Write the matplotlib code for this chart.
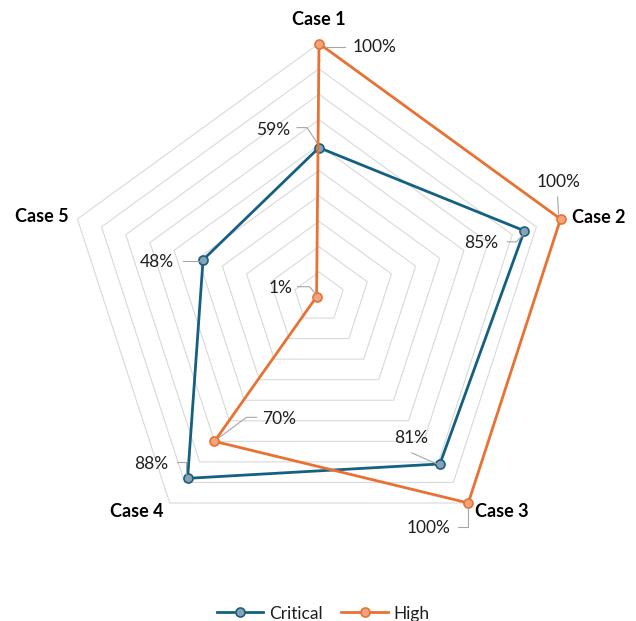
import numpy as np
import matplotlib
matplotlib.use("Agg")
import matplotlib.pyplot as plt
from matplotlib.lines import Line2D

plt.rcParams['font.family'] = ['Lato', 'DejaVu Sans']

categories = ["Case 1", "Case 2", "Case 3", "Case 4", "Case 5"]
critical = [59, 85, 81, 88, 48]
high = [100, 100, 100, 70, 1]
series_names = ["Critical", "High"]

LINE_COLORS = ["#156082", "#E97132"]
FILL_COLORS = ["#8aa1b1", "#f2a47e"]
GRID_COLOR = "#d9d9d9"
TEXT_COLOR = "#1f1f1f"

# canvas geometry (pixel units)
W, H = 636, 621
CX, CY, R = 319, 297.5, 254
RMAX = 100

angles = np.deg2rad(90 - 72 * np.arange(len(categories)))


def to_xy(values):
    r = np.asarray(values, dtype=float) / RMAX * R
    return CX + r * np.cos(angles), CY - r * np.sin(angles)


fig = plt.figure(figsize=(W / 100, H / 100), dpi=100)
ax = fig.add_axes([0, 0, 1, 1])
ax.set_xlim(0, W)
ax.set_ylim(H, 0)
ax.axis("off")

# concentric pentagon grid, one ring per 10%
for level in range(10, RMAX + 1, 10):
    gx, gy = to_xy([level] * len(categories))
    ax.plot(np.append(gx, gx[0]), np.append(gy, gy[0]), color=GRID_COLOR,
            lw=0.8, zorder=1)

# category labels: (dx, dy, ha) offsets from the outer vertex
cat_offsets = [(0, -24, "center"), (11, -2, "left"), (7, 9, "left"),
               (-33, 9, "center"), (-9, -3, "right")]
ox, oy = to_xy([RMAX] * len(categories))
for name, x, y, (dx, dy, ha) in zip(categories, ox, oy, cat_offsets):
    ax.text(x + dx, y + dy, name, ha=ha, va="center", fontsize=13,
            fontweight="bold", color="black", zorder=5)

# data label placement: text offset and leader polyline, relative to the point
label_layout = {
    "Critical": [
        ((-46, -18), [(-2, -5), (-12, -20), (-22, -20)]),
        ((-43, 12), [(0, 3), (-8, 11), (-17, 11)]),
        ((-29, -26), [(-3, 0), (-28, -11)]),
        ((-36, -14), [(-2, -4), (-2, -16), (-11, -16)]),
        ((-46, 2), [(-4, 1), (-20, 1)]),
    ],
    "High": [
        ((56, 4), [(6, 3.5), (26, 3.5)]),
        ((-2, -37), [(-2, -5), (-3, -22)]),
        ((-40, 25), [(0, 5), (0, 24), (-10, 24)]),
        ((65, -22), [(5, -4), (32, -24), (42, -24)]),
        ((-36, -9), [(0, -1.5), (-7, -10), (-19, -10)]),
    ],
}

handles = []
for name, vals, lc, fc, z in zip(series_names, [critical, high], LINE_COLORS,
                                 FILL_COLORS, [2, 3]):
    x, y = to_xy(vals)
    ax.plot(np.append(x, x[0]), np.append(y, y[0]), color=lc, lw=2.0,
            zorder=z, solid_joinstyle="miter")
    ax.plot(x, y, ls="none", marker="o", ms=6.5, mfc=fc, mec=lc, mew=1.2,
            zorder=z + 0.5)
    for v, px, py, ((tdx, tdy), leader) in zip(vals, x, y, label_layout[name]):
        lx = [px + a for a, _ in leader]
        ly = [py + b for _, b in leader]
        ax.plot(lx, ly, color="#a6a6a6", lw=0.8, zorder=4)
        ax.text(px + tdx, py + tdy, f"{v}%", ha="center", va="center",
                fontsize=12.5, color=TEXT_COLOR, zorder=5)
    handles.append(Line2D([], [], color=lc, lw=2.0, marker="o", ms=6.5,
                          mfc=fc, mec=lc, mew=1.2, label=name))

ax.legend(handles=handles, loc="center", bbox_to_anchor=(0.508, 0.012),
          ncol=2, frameon=False, fontsize=12.5, handlelength=2.7,
          handletextpad=0.3, columnspacing=1.1, labelcolor=TEXT_COLOR)

fig.savefig("out.png", dpi=100)
